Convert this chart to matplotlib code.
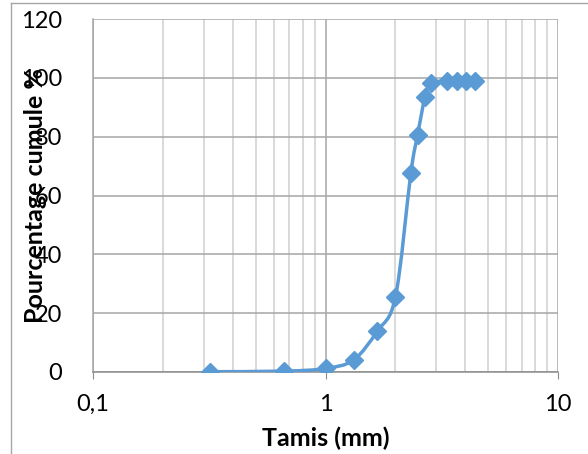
import numpy as np
import matplotlib.pyplot as plt
from matplotlib.path import Path
from matplotlib.patches import PathPatch
from matplotlib.lines import Line2D
from matplotlib.ticker import LogLocator, NullFormatter

# courbe granulometrique
tamis = [0.32, 0.665, 1.0, 1.32, 1.67, 2.0, 2.33, 2.49, 2.68, 2.84, 3.34, 3.67, 4.02, 4.40]
cumul = [0.1, 0.3, 1.2, 4.1, 13.9, 25.6, 67.8, 80.6, 93.6, 98.1, 99.0, 99.0, 99.0, 99.0]

y_ticks = [0, 20, 40, 60, 80, 100, 120]
x_ticks = [0.1, 1, 10]
x_labels = ["0,1", "1", "10"]

bleu = "#5B9BD5"
plt.rcParams['font.family'] = ['Lato', 'DejaVu Sans']

fig = plt.figure(figsize=(5.88, 4.54), dpi=100)
ax = fig.add_axes([93/588, 1-372/454, 465/588, 353/454])

ax.set_xscale('log')
ax.set_xlim(0.1, 10)
ax.set_ylim(0, 120)

# lissage type Catmull-Rom dans l'espace (log x, y)
lx = np.log10(tamis)
py = np.array(cumul)
n = len(lx)
verts = [(tamis[0], cumul[0])]
codes = [Path.MOVETO]
for i in range(n - 1):
    i0 = max(i - 1, 0)
    i3 = min(i + 2, n - 1)
    c1x = lx[i] + (lx[i+1] - lx[i0]) / 6
    c1y = py[i] + (py[i+1] - py[i0]) / 6
    c2x = lx[i+1] - (lx[i3] - lx[i]) / 6
    c2y = py[i+1] - (py[i3] - py[i]) / 6
    verts += [(10**c1x, c1y), (10**c2x, c2y), (tamis[i+1], cumul[i+1])]
    codes += [Path.CURVE4] * 3
ax.add_patch(PathPatch(Path(verts, codes), fill=False, edgecolor=bleu,
                       linewidth=2.5, capstyle='round', joinstyle='round', zorder=3))
ax.plot(tamis, cumul, linestyle='none', marker='D', markersize=9,
        color=bleu, zorder=4)

ax.set_yticks(y_ticks)
ax.set_xticks(x_ticks)
ax.set_xticklabels(x_labels)
ax.xaxis.set_minor_locator(LogLocator(base=10, subs=np.arange(2, 10)))
ax.xaxis.set_minor_formatter(NullFormatter())

ax.grid(True, which='major', axis='y', color='#a6a6a6', linewidth=1.1)
ax.grid(True, which='major', axis='x', color='#a6a6a6', linewidth=1.1)
ax.grid(True, which='minor', axis='x', color='#d0d0d0', linewidth=1.1)
ax.set_axisbelow(True)

for s in ['top', 'right']:
    ax.spines[s].set_visible(False)
ax.spines['left'].set_color('#a6a6a6')
ax.spines['bottom'].set_color('#8c8c8c')
ax.spines['left'].set_linewidth(1.1)
ax.spines['bottom'].set_linewidth(1.1)

ax.tick_params(axis='y', length=0, pad=22, labelsize=17)
ax.tick_params(axis='x', which='major', length=5, color='#8c8c8c', pad=11, labelsize=17)
ax.tick_params(axis='x', which='minor', length=0)

ax.set_xlabel("Tamis (mm)", fontsize=18, fontweight='bold')
ax.xaxis.set_label_coords(0.5, -0.155)
ax.set_ylabel("Pourcentage cumule %", fontsize=18, fontweight='bold')
ax.yaxis.set_label_coords(-0.098, 0.5)

# cadre du graphique
fig.add_artist(Line2D([11/588, 11/588], [0, 1-3/454], transform=fig.transFigure,
                      color='#a6a6a6', linewidth=1))
fig.add_artist(Line2D([11/588, 1], [1-3/454, 1-3/454], transform=fig.transFigure,
                      color='#a6a6a6', linewidth=1))

fig.savefig("out.png", dpi=100)
